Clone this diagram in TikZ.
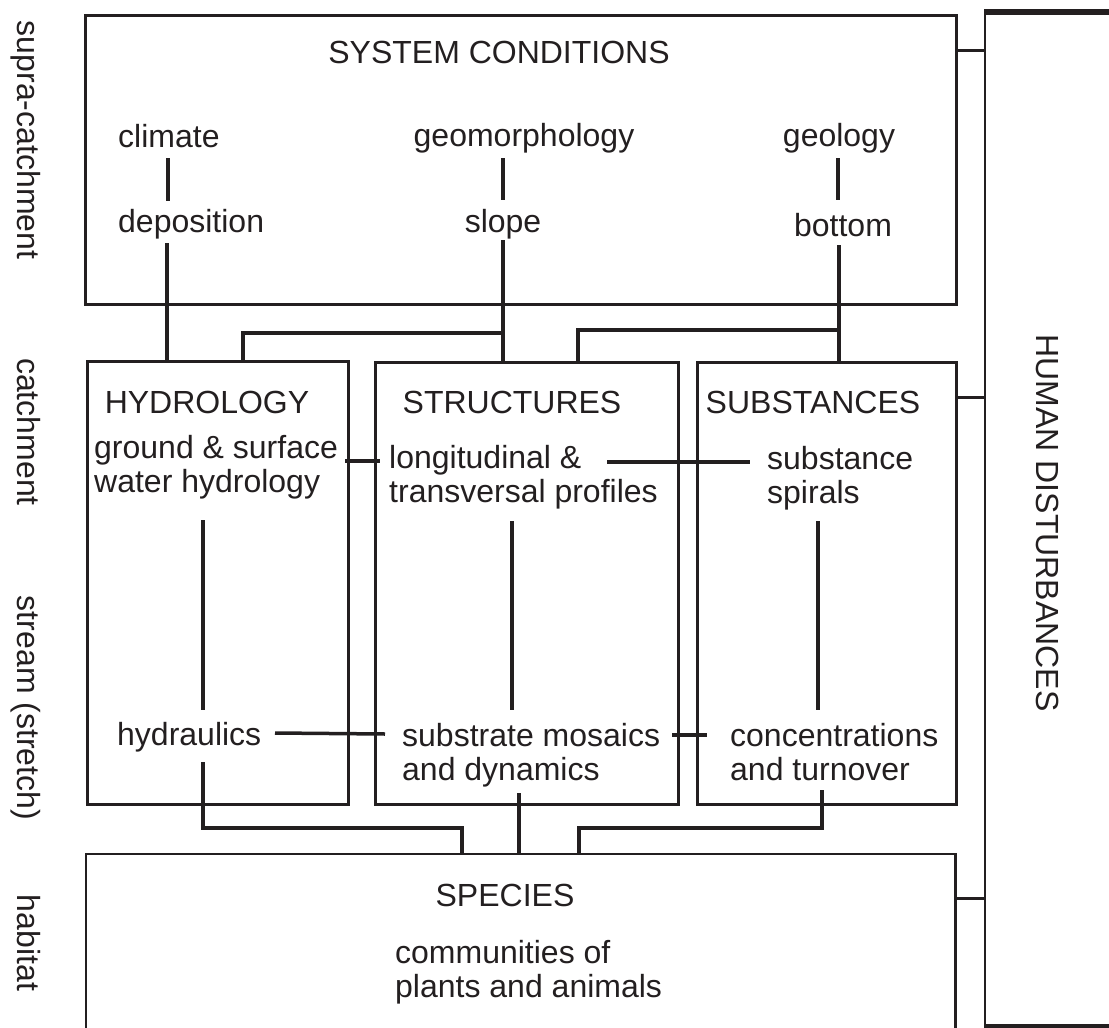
\documentclass[tikz,border=0pt]{standalone}
\usepackage{fontspec}
\setmainfont{Liberation Sans}
\usetikzlibrary{calc}
\definecolor{ink}{RGB}{35,31,32}
\begin{document}
\begin{tikzpicture}[x=1pt,y=-1pt,line join=miter,
  box/.style={draw=ink,line width=2.5pt,inner sep=0pt},
  conn/.style={draw=ink,line width=3.5pt},
  lbl/.style={font=\fontsize{32}{34}\selectfont,text=ink,inner sep=0pt,text height=23pt,text depth=7pt},
  ml/.style={font=\fontsize{32}{34}\selectfont,text=ink,inner sep=0pt},
  side/.style={font=\fontsize{32}{34}\selectfont,text=ink,inner sep=0pt,rotate=-90,anchor=base}]
\useasboundingbox (0,0) rectangle (1109,1028);

% boxes
\node[box,minimum width=871pt,minimum height=289pt,anchor=north west] (sys) at (84,14) {};
\node[box,minimum width=261pt,minimum height=443pt,anchor=north west] (hyd) at (86,360) {};
\node[box,minimum width=303pt,minimum height=442pt,anchor=north west] (str) at (374,361) {};
\node[box,minimum width=259pt,minimum height=442pt,anchor=north west] (sub) at (696,361) {};
\node[inner sep=0pt,minimum width=869pt,minimum height=180pt,anchor=north west] (spc) at (86,854) {};
\draw[box] (spc.south west) |- (spc.north east) -- (spc.south east);
\node[inner sep=0pt,minimum width=140pt,minimum height=1014pt,anchor=north west] (hum) at (985,12) {};
\draw[draw=ink,line width=2pt] (hum.north west) -- (hum.south west);
\draw[draw=ink,line width=6pt] ([xshift=-1pt]hum.north west) -- (hum.north east);
\draw[draw=ink,line width=5pt] ([xshift=-1pt]hum.south west) -- (hum.south east);

% side labels
\node[side] (lsupra) at (17,140) {supra-catchment};
\node[side] (lcatch) at (17,432) {catchment};
\node[side] (lstream) at (17,708) {stream (stretch)};
\node[side] (lhab) at (17,943) {habitat};
\node[side] (lhum) at (1036,523) {HUMAN DISTURBANCES};

% system conditions texts
\node[lbl,anchor=base] (sysT) at (499,63) {SYSTEM CONDITIONS};
\node[lbl,anchor=base west] (climate) at (118,147) {climate};
\node[lbl,anchor=base west] (dep) at (118,232) {deposition};
\node[lbl,anchor=base] (geom) at (524,146) {geomorphology};
\node[lbl,anchor=base] (slope) at (503,232) {slope};
\node[lbl,anchor=base] (geol) at (839,146) {geology};
\node[lbl,anchor=base] (bottom) at (843,236) {bottom};

% middle boxes
\node[lbl,anchor=base] (hydT) at (207,413) {HYDROLOGY};
\node[lbl,anchor=base] (strT) at (512,413) {STRUCTURES};
\node[lbl,anchor=base] (subT) at (813,413) {SUBSTANCES};
\node[ml,anchor=base west] (gs) at (94,458) {\begin{tabular}[t]{@{}l@{}}ground \& surface\\water hydrology\end{tabular}};
\node[ml,anchor=base west] (lt) at (389,468) {\begin{tabular}[t]{@{}l@{}}longitudinal \&\\transversal profiles\end{tabular}};
\node[ml,anchor=base west] (sb) at (767,469) {\begin{tabular}[t]{@{}l@{}}substance\\spirals\end{tabular}};
\node[lbl,anchor=base west] (hy) at (117,745) {hydraulics};
\node[ml,anchor=base west] (sm) at (402,746) {\begin{tabular}[t]{@{}l@{}}substrate mosaics\\and dynamics\end{tabular}};
\node[ml,anchor=base west] (cc) at (730,746) {\begin{tabular}[t]{@{}l@{}}concentrations\\and turnover\end{tabular}};

% species
\node[lbl,anchor=base] (spT) at (505,906) {SPECIES};
\node[ml,anchor=base west] (com) at (395,963) {\begin{tabular}[t]{@{}l@{}}communities of\\plants and animals\end{tabular}};

% connectors to human disturbances
\draw[conn,line width=3pt] (sys.east |- 0,50) -- (hum.west |- 0,50);
\draw[conn,line width=3pt] (sub.east |- 0,397) -- (hum.west |- 0,397);
\draw[conn,line width=3pt] (spc.east |- 0,898) -- (hum.west |- 0,898);

% top connectors
\draw[conn] ($(climate.base)+(-1,11)$) -- ($(climate.base |- dep.north)+(-1,-8)$);
\draw[conn] ($(climate.base |- dep.south)+(-2,4)$) -- ($(climate.base |- hyd.north)+(-2,0)$);
\draw[conn] ($(slope.base |- geom.base)+(0,12)$) -- ($(slope.base)+(0,-32)$);
\draw[conn] ($(slope.base)+(0,8)$) -- (slope.base |- str.north);
\draw[conn] ($(geol.base)+(-1,12)$) -- ($(geol.base |- bottom.base)+(-1,-36)$);
\draw[conn] ($(geol.base |- bottom.base)+(0,9)$) -- (geol.base |- sub.north);
\draw[conn] (slope.base |- 0,333) -| ($(hyd.north west)+(157,0)$);
\draw[conn] (geol.base |- 0,330) -| ($(str.north west)+(204,0)$);

% middle connectors
\draw[conn] ($(lt.base west)+(-44,-7)$) -- ($(lt.base west)+(-9,-7)$);
\draw[conn] ($(lt.base west)+(218,-6)$) -- ($(sb.base west)+(-17,-7)$);
\draw[conn] ($(hy.base west)+(86,-225)$) -- ($(hy.base west)+(86,-35)$);
\draw[conn] ($(sm.base west)+(110,-225)$) -- ($(sm.base west)+(110,-36)$);
\draw[conn] ($(cc.base west)+(88,-225)$) -- ($(cc.base west)+(88,-36)$);
\draw[conn] ($(hy.base west)+(158,-12)$) -- ($(sm.base west)+(-17,-12)$);
\draw[conn] ($(sm.base west)+(270,-11)$) -- ($(cc.base west)+(-23,-11)$);

% bottom connectors
\draw[conn] ($(hy.base west)+(86,17)$) |- ($(spc.north west)+(376,-26)$) -- ($(spc.north west)+(376,0)$);
\draw[conn] ($(sm.base west)+(117,47)$) -- ($(spc.north west)+(433,0)$);
\draw[conn] ($(cc.base west)+(92,44)$) |- ($(spc.north west)+(493,-26)$) -- ($(spc.north west)+(493,0)$);
\end{tikzpicture}
\end{document}
